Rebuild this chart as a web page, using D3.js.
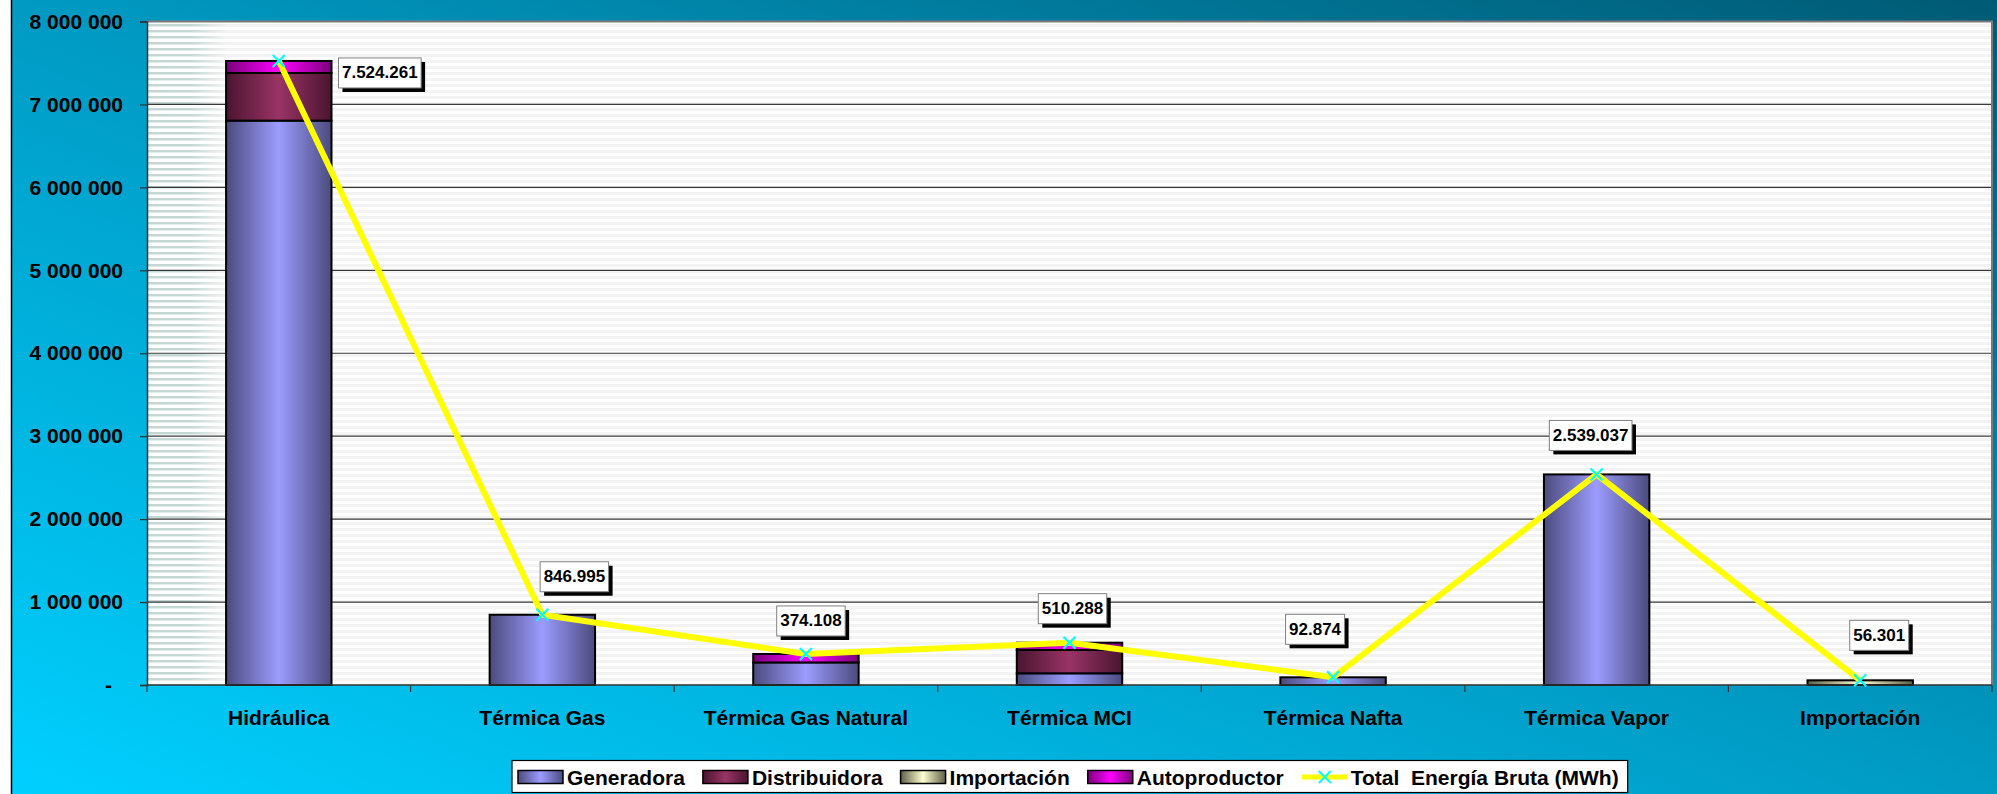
<!DOCTYPE html>
<html>
<head>
<meta charset="utf-8">
<script src="https://cdn.jsdelivr.net/npm/d3@7"></script>
<style>
  body { margin: 0; background: #fff; }
  svg { display: block; font-family: "Liberation Sans", Arial, sans-serif; }
</style>
</head>
<body>
<div id="chart"></div>
<script>
// ---- data (MWh) ----
const categories = ["Hidráulica", "Térmica Gas", "Térmica Gas Natural", "Térmica MCI", "Térmica Nafta", "Térmica Vapor", "Importación"];
const generadora = [6805000, 846995, 272000, 141000, 92874, 2539037, 0];
const distribuidora = [574000, 0, 0, 281000, 0, 0, 0];
const importacion = [0, 0, 0, 0, 0, 0, 56301];
const autoproductor = [145261, 0, 102108, 88288, 0, 0, 0];
const totalBruta = [7524261, 846995, 374108, 510288, 92874, 2539037, 56301];
const seriesNames = ["Generadora", "Distribuidora", "Importación", "Autoproductor"];
const lineName = "Total  Energía Bruta (MWh)";
const yTicks = [0, 1000000, 2000000, 3000000, 4000000, 5000000, 6000000, 7000000, 8000000];

// ---- layout ----
const width = 1997, height = 794;
const plot = { left: 147, right: 1992, top: 21.5, bottom: 685 };
// manual nudges of the value boxes, relative to the marker (as placed in the original)
const labelShift = [[101, 12], [32, -38], [5, -33], [3, -34], [-18, -48], [-6, -39], [19, -45]];

const colors = {
  "Generadora": ["#4b4b7e", "#9c9cff"],
  "Distribuidora": ["#4a1530", "#9a3366"],
  "Importación": ["#5e5e46", "#ffffd2"],
  "Autoproductor": ["#7a007a", "#ff00ff"]
};

const dots = d3.formatLocale({ decimal: ",", thousands: ".", grouping: [3], currency: ["", ""] }).format(",d");
const spaced = d3.formatLocale({ decimal: ",", thousands: " ", grouping: [3], currency: ["", ""] }).format(",d");

const svg = d3.select("#chart").append("svg")
  .attr("width", width)
  .attr("height", height);

const defs = svg.append("defs");

const bg = defs.append("linearGradient").attr("id", "bg")
  .attr("x1", 0).attr("y1", 1).attr("x2", 1).attr("y2", 0);
bg.append("stop").attr("offset", 0).attr("stop-color", "#00d0ff");
bg.append("stop").attr("offset", 0.5).attr("stop-color", "#009ac3");
bg.append("stop").attr("offset", 1).attr("stop-color", "#005a74");

seriesNames.forEach((name, i) => {
  const g = defs.append("linearGradient").attr("id", "bar" + i)
    .attr("x1", 0).attr("y1", 0).attr("x2", 1).attr("y2", 0);
  g.append("stop").attr("offset", 0).attr("stop-color", colors[name][0]);
  g.append("stop").attr("offset", 0.5).attr("stop-color", colors[name][1]);
  g.append("stop").attr("offset", 1).attr("stop-color", colors[name][0]);
});

function stripes(id, color, h) {
  const p = defs.append("pattern").attr("id", id)
    .attr("patternUnits", "userSpaceOnUse")
    .attr("width", 10).attr("height", 6);
  p.append("rect").attr("width", 10).attr("height", 6).attr("fill", "#fff");
  p.append("rect").attr("width", 10).attr("height", h).attr("fill", color);
}
stripes("lightStripes", "#f3f3f3", 3);
stripes("darkStripes", "#c4d7d3", 2.5);

const fade = defs.append("linearGradient").attr("id", "fadeGrad");
fade.append("stop").attr("offset", 0).attr("stop-color", "#fff");
fade.append("stop").attr("offset", 1).attr("stop-color", "#000");
defs.append("mask").attr("id", "fadeMask")
  .append("rect")
  .attr("x", 190).attr("y", plot.top).attr("width", 36).attr("height", plot.bottom - plot.top)
  .attr("fill", "url(#fadeGrad)");

// chart background
svg.append("rect")
  .attr("x", 11.5).attr("y", -2)
  .attr("width", width).attr("height", height + 4)
  .attr("fill", "url(#bg)")
  .attr("stroke", "#000").attr("stroke-width", 1.5);

// scales
const x = d3.scaleBand()
  .domain(categories)
  .range([plot.left, plot.right])
  .paddingInner(0.6)
  .paddingOuter(0.3);

const y = d3.scaleLinear()
  .domain([0, 8000000])
  .range([plot.bottom, plot.top]);

// plot area
svg.append("rect")
  .attr("x", plot.left).attr("y", plot.top)
  .attr("width", plot.right - plot.left).attr("height", plot.bottom - plot.top)
  .attr("fill", "url(#lightStripes)");
svg.append("rect")
  .attr("x", plot.left).attr("y", plot.top)
  .attr("width", 45).attr("height", plot.bottom - plot.top)
  .attr("fill", "url(#darkStripes)");
svg.append("rect")
  .attr("x", 190).attr("y", plot.top)
  .attr("width", 36).attr("height", plot.bottom - plot.top)
  .attr("fill", "url(#darkStripes)")
  .attr("mask", "url(#fadeMask)");

// gridlines
svg.append("g")
  .selectAll("line")
  .data(yTicks.filter(d => d > 0 && d < 8000000))
  .join("line")
  .attr("x1", plot.left).attr("x2", plot.right)
  .attr("y1", d => y(d)).attr("y2", d => y(d))
  .attr("stroke", "#3a3a3a").attr("stroke-width", 1.2);

// plot border (top & right)
svg.append("path")
  .attr("d", `M${plot.left},${plot.top}H${plot.right}V${plot.bottom}`)
  .attr("fill", "none")
  .attr("stroke", "#7a7a7a").attr("stroke-width", 2);

// y axis
const yAxis = svg.append("g")
  .attr("transform", `translate(${plot.left},0)`)
  .call(d3.axisLeft(y).tickValues(yTicks).tickSize(7).tickPadding(17)
    .tickFormat(d => d === 0 ? "-" : spaced(d)));
yAxis.select(".domain").attr("stroke", "#333").attr("stroke-width", 1.5);
yAxis.selectAll(".tick line").attr("stroke", "#333").attr("stroke-width", 1.2);
yAxis.selectAll(".tick text")
  .attr("font-family", "'Liberation Sans', Arial, sans-serif")
  .attr("font-size", 21).attr("font-weight", "bold").attr("fill", "#000")
  .attr("x", d => d === 0 ? -35 : -24);

// stacked bars
const rows = categories.map((c, i) => ({
  cat: c,
  "Generadora": generadora[i],
  "Distribuidora": distribuidora[i],
  "Importación": importacion[i],
  "Autoproductor": autoproductor[i]
}));
const stacked = d3.stack().keys(seriesNames)(rows);

svg.append("g")
  .selectAll("g")
  .data(stacked)
  .join("g")
  .attr("fill", (s, i) => `url(#bar${i})`)
  .selectAll("rect")
  .data(s => s.filter(d => d[1] - d[0] > 0))
  .join("rect")
  .attr("x", d => x(d.data.cat))
  .attr("width", x.bandwidth())
  .attr("y", d => y(d[1]))
  .attr("height", d => y(d[0]) - y(d[1]))
  .attr("stroke", "#000").attr("stroke-width", 2);

// x axis
svg.append("line")
  .attr("x1", plot.left).attr("x2", plot.right)
  .attr("y1", plot.bottom).attr("y2", plot.bottom)
  .attr("stroke", "#333").attr("stroke-width", 1.5);
svg.append("g")
  .selectAll("line")
  .data(d3.range(categories.length + 1))
  .join("line")
  .attr("x1", i => plot.left + i * x.step())
  .attr("x2", i => plot.left + i * x.step())
  .attr("y1", plot.bottom).attr("y2", plot.bottom + 7)
  .attr("stroke", "#333").attr("stroke-width", 1.2);
svg.append("g")
  .selectAll("text")
  .data(categories)
  .join("text")
  .attr("x", d => x(d) + x.bandwidth() / 2)
  .attr("y", 725)
  .attr("text-anchor", "middle")
  .attr("font-size", 21).attr("font-weight", "bold")
  .text(d => d);

// total line
const pts = categories.map((c, i) => [x(c) + x.bandwidth() / 2, y(totalBruta[i])]);
svg.append("path")
  .attr("d", d3.line()(pts))
  .attr("fill", "none")
  .attr("stroke", "#ffff00").attr("stroke-width", 6)
  .attr("stroke-linejoin", "round");
const cross = "M-6,-6L6,6M-6,6L6,-6";
svg.append("g")
  .selectAll("path")
  .data(pts)
  .join("path")
  .attr("transform", d => `translate(${d[0]},${d[1]})`)
  .attr("d", cross)
  .attr("stroke", "#00ffff").attr("stroke-width", 2.2);

// value boxes
const labels = svg.append("g")
  .selectAll("g")
  .data(pts)
  .join("g")
  .attr("transform", (d, i) => `translate(${d[0] + labelShift[i][0]},${d[1] + labelShift[i][1]})`);
labels.each(function (d, i) {
  const g = d3.select(this);
  const shadow = g.append("rect").attr("fill", "#000");
  const box = g.append("rect").attr("fill", "#fff").attr("stroke", "#808080").attr("stroke-width", 1);
  const t = g.append("text")
    .attr("text-anchor", "middle")
    .attr("dominant-baseline", "central")
    .attr("font-size", 17).attr("font-weight", "bold")
    .text(dots(totalBruta[i]));
  const w = t.node().getComputedTextLength() + 7, h = 30;
  box.attr("x", -w / 2).attr("y", -h / 2).attr("width", w).attr("height", h);
  shadow.attr("x", -w / 2 + 4).attr("y", -h / 2 + 4).attr("width", w).attr("height", h);
});

// legend
const legend = svg.append("g").attr("transform", "translate(512,760.5)");
const legendBox = legend.append("rect")
  .attr("height", 32)
  .attr("fill", "#fff").attr("stroke", "#000").attr("stroke-width", 1.2);
let cx = 6;
const midY = 16.5;
[...seriesNames, lineName].forEach((name, i) => {
  if (i < seriesNames.length) {
    legend.append("rect")
      .attr("x", cx).attr("y", midY - 6.5)
      .attr("width", 45).attr("height", 13)
      .attr("fill", `url(#bar${i})`)
      .attr("stroke", "#000").attr("stroke-width", 1.5);
  } else {
    legend.append("line")
      .attr("x1", cx).attr("x2", cx + 46)
      .attr("y1", midY).attr("y2", midY)
      .attr("stroke", "#ffff00").attr("stroke-width", 5);
    legend.append("path")
      .attr("transform", `translate(${cx + 23},${midY})`)
      .attr("d", cross)
      .attr("stroke", "#00ffff").attr("stroke-width", 2);
  }
  cx += 49;
  const t = legend.append("text")
    .attr("x", cx).attr("y", midY)
    .attr("dominant-baseline", "central")
    .attr("font-size", 21).attr("font-weight", "bold")
    .style("white-space", "pre")
    .text(name);
  cx += t.node().getComputedTextLength() + 18;
});
legendBox.attr("width", cx - 18 + 9);
</script>
</body>
</html>
